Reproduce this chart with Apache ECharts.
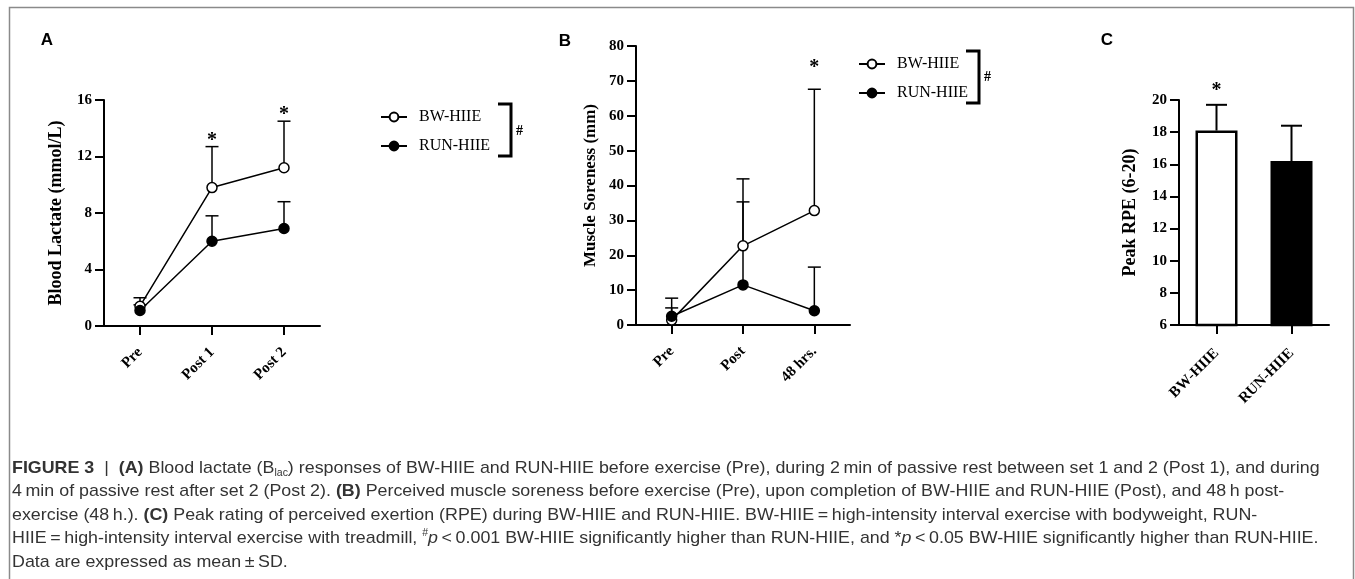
<!DOCTYPE html>
<html><head><meta charset="utf-8">
<script src="https://cdn.jsdelivr.net/npm/echarts@6/dist/echarts.min.js"></script>
<style>html,body{margin:0;padding:0;background:#fff}#c{width:1355px;height:579px}</style>
</head><body><div id="c"></div>
<script>
// ---------- DATA ----------
// Panel A: blood lactate (mmol/L)
const catsA = ['Pre', 'Post 1', 'Post 2'];
const bwA = [1.4, 9.8, 11.2];
const bwAsd = [0.6, 2.9, 3.3];
const runA = [1.1, 6.0, 6.9];
const runAsd = [0.4, 1.8, 1.9];
const starA = [null, 13.4, 15.2];
const yTicksA = [0, 4, 8, 12, 16];

// Panel B: muscle soreness (mm)
const catsB = ['Pre', 'Post', '48 hrs.'];
const bwB = [1.4, 22.7, 32.8];
const bwBsd = [3.5, 19.2, 34.8];
const runB = [2.5, 11.5, 4.1];
const runBsd = [5.2, 23.8, 12.5];
const starB = [null, null, 74.8];
const yTicksB = [0, 10, 20, 30, 40, 50, 60, 70, 80];

// Panel C: peak RPE (6-20)
const catsC = ['BW-HIIE', 'RUN-HIIE'];
const rpeC = [18.1, 16.2];
const rpeCsd = [1.6, 2.2];
const starC = [20.8, null];
const yTicksC = [6, 8, 10, 12, 14, 16, 18, 20];

const seriesNames = ['BW-HIIE', 'RUN-HIIE'];

const captionLines = [
  '{b|FIGURE 3}{n|  |  }{b|(A)}{n| Blood lactate (B}{sub|lac}{n|) responses of BW-HIIE and RUN-HIIE before exercise (Pre), during 2\u2009min of passive rest between set 1 and 2 (Post 1), and during}',
  '{n|4\u2009min of passive rest after set 2 (Post 2). }{b|(B)}{n| Perceived muscle soreness before exercise (Pre), upon completion of BW-HIIE and RUN-HIIE (Post), and 48\u2009h post-}',
  '{n|exercise (48\u2009h.). }{b|(C)}{n| Peak rating of perceived exertion (RPE) during BW-HIIE and RUN-HIIE. BW-HIIE\u2009=\u2009high-intensity interval exercise with bodyweight, RUN-}',
  '{n|HIIE\u2009=\u2009high-intensity interval exercise with treadmill, }{sup|#}{i|p}{n|\u2009<\u20090.001 BW-HIIE significantly higher than RUN-HIIE, and *}{i|p}{n|\u2009<\u20090.05 BW-HIIE significantly higher than RUN-HIIE.}',
  '{n|Data are expressed as mean\u2009\u00b1\u2009SD.}'
];

// ---------- STYLE HELPERS ----------
const SERIF = '"Liberation Serif", "Times New Roman", serif';
const SANS = '"Liberation Sans", Arial, sans-serif';

function errData(mean, sd) {
  return mean.map((m, i) => [i, m, +(m + sd[i]).toFixed(2)]);
}
function starData(arr) {
  const out = [];
  arr.forEach((v, i) => { if (v != null) out.push([i, v]); });
  return out;
}
function errRender(capW, lw) {
  return function (params, api) {
    const p0 = api.coord([api.value(0), api.value(1)]);
    const p1 = api.coord([api.value(0), api.value(2)]);
    return {
      type: 'group', children: [
        { type: 'line', shape: { x1: p0[0], y1: p0[1], x2: p1[0], y2: p1[1] }, style: { stroke: '#000', lineWidth: lw } },
        { type: 'line', shape: { x1: p1[0] - capW / 2, y1: p1[1], x2: p1[0] + capW / 2, y2: p1[1] }, style: { stroke: '#000', lineWidth: lw } }
      ]
    };
  };
}
function starRender(params, api) {
  const p = api.coord([api.value(0), api.value(1)]);
  return { type: 'text', x: p[0], y: p[1] + 4, style: { text: '*', font: 'bold 20px ' + SERIF, fill: '#000', align: 'center', verticalAlign: 'middle' } };
}

function xAxisCfg(idx, cats, margin) {
  return {
    type: 'category', gridIndex: idx, data: cats, boundaryGap: true,
    axisLine: { lineStyle: { color: '#000', width: 2 } },
    axisTick: { show: true, alignWithLabel: true, length: 9, lineStyle: { color: '#000', width: 2 } },
    axisLabel: { rotate: 45, margin: margin, color: '#000', fontFamily: SERIF, fontWeight: 'bold', fontSize: 15, interval: 0 },
    splitLine: { show: false }
  };
}
function yAxisCfg(idx, ticks, name, gap, nameSize) {
  return {
    type: 'value', gridIndex: idx, min: ticks[0], max: ticks[ticks.length - 1], interval: ticks[1] - ticks[0],
    name: name, nameLocation: 'middle', nameGap: gap, nameRotate: 90,
    nameTextStyle: { color: '#000', fontFamily: SERIF, fontWeight: 'bold', fontSize: nameSize },
    axisLine: { show: true, lineStyle: { color: '#000', width: 2 } },
    axisTick: { show: true, length: 9, lineStyle: { color: '#000', width: 2 } },
    axisLabel: { margin: 12, color: '#000', fontFamily: SERIF, fontWeight: 'bold', fontSize: 15 },
    splitLine: { show: false }
  };
}
function lineSeries(name, data, xi, filled) {
  return {
    type: 'line', name: name, xAxisIndex: xi, yAxisIndex: xi, data: data, z: 5,
    symbol: 'circle', symbolSize: 10,
    itemStyle: { color: filled ? '#000' : '#fff', borderColor: '#000', borderWidth: 1.5 },
    lineStyle: { color: '#000', width: 1.5 },
    emphasis: { disabled: true }
  };
}
function errSeries(data, xi, capW, lw) {
  return { type: 'custom', xAxisIndex: xi, yAxisIndex: xi, data: data, z: 3, renderItem: errRender(capW, lw), silent: true };
}
function starSeries(data, xi) {
  return { type: 'custom', xAxisIndex: xi, yAxisIndex: xi, data: data, z: 6, renderItem: starRender, silent: true };
}

// ---------- CAPTION ----------
const capFont = 17;
const mctx = document.createElement('canvas').getContext('2d');
mctx.font = capFont + 'px ' + SANS;
const plain1 = captionLines[0].replace(/\{[a-z]+\|([^}]*)\}/g, '$1');
const capScale = 1316 / mctx.measureText(plain1).width;
const capRich = {
  n: { fontFamily: SANS, fontSize: capFont, color: '#333' },
  b: { fontFamily: SANS, fontSize: capFont, fontWeight: 'bold', color: '#222' },
  i: { fontFamily: SANS, fontSize: capFont, fontStyle: 'italic', color: '#333' },
  sub: { fontFamily: SANS, fontSize: 10, color: '#333', verticalAlign: 'bottom', lineHeight: 20 },
  sup: { fontFamily: SANS, fontSize: 10, color: '#333', verticalAlign: 'top', lineHeight: 20 }
};
const captionGraphics = captionLines.map((t, k) => ({
  type: 'text', x: 12, y: 468 + k * 23.5, scaleX: capScale, silent: true,
  style: { text: t, rich: capRich, verticalAlign: 'middle', align: 'left', fill: '#333', font: capFont + 'px ' + SANS }
}));

// ---------- CHART ----------
const chart = echarts.init(document.getElementById('c'), null, { renderer: 'canvas' });
const option = {
  backgroundColor: '#fff',
  animation: false,
  grid: [
    { left: 104, top: 100, width: 216, height: 226, containLabel: false, outerBoundsMode: 'none' },
    { left: 636, top: 46, width: 214, height: 279, containLabel: false, outerBoundsMode: 'none' },
    { left: 1179, top: 100, width: 150, height: 225, containLabel: false, outerBoundsMode: 'none' }
  ],
  xAxis: [xAxisCfg(0, catsA, 24), xAxisCfg(1, catsB, 24), xAxisCfg(2, catsC, 26)],
  yAxis: [
    yAxisCfg(0, yTicksA, 'Blood Lactate (mmol/L)', 39, 18),
    yAxisCfg(1, yTicksB, 'Muscle Soreness (mm)', 37, 17),
    yAxisCfg(2, yTicksC, 'Peak RPE (6-20)', 40, 18)
  ],
  legend: [
    { data: seriesNames, orient: 'vertical', left: 375, top: 104, itemWidth: 26, itemHeight: 11, itemGap: 13,
      textStyle: { fontFamily: SERIF, fontSize: 16, color: '#000', padding: [0, 0, 0, 7] }, selectedMode: false },
    { data: seriesNames, orient: 'vertical', left: 853, top: 51, itemWidth: 26, itemHeight: 11, itemGap: 13,
      textStyle: { fontFamily: SERIF, fontSize: 16, color: '#000', padding: [0, 0, 0, 7] }, selectedMode: false }
  ],
  series: [
    errSeries(errData(bwA, bwAsd), 0, 13, 1.5),
    errSeries(errData(runA, runAsd), 0, 13, 1.5),
    lineSeries(seriesNames[0], bwA, 0, false),
    lineSeries(seriesNames[1], runA, 0, true),
    starSeries(starData(starA), 0),

    errSeries(errData(bwB, bwBsd), 1, 13, 1.5),
    errSeries(errData(runB, runBsd), 1, 13, 1.5),
    lineSeries(seriesNames[0], bwB, 1, false),
    lineSeries(seriesNames[1], runB, 1, true),
    starSeries(starData(starB), 1),

    {
      type: 'bar', xAxisIndex: 2, yAxisIndex: 2, barWidth: 42, z: 4,
      data: rpeC.map((v, i) => ({ value: v, itemStyle: { color: i === 0 ? '#fff' : '#000', borderColor: '#000', borderWidth: 2.5 } })),
      emphasis: { disabled: true }
    },
    errSeries(errData(rpeC, rpeCsd), 2, 21, 2),
    starSeries(starData(starC), 2)
  ],
  graphic: [
    { type: 'rect', silent: true, shape: { x: 9.5, y: 7.5, width: 1344, height: 620 }, style: { fill: 'none', stroke: '#8a8a8a', lineWidth: 1.5 } },
    { type: 'text', x: 47, y: 40, silent: true, style: { text: 'A', font: 'bold 17px ' + SANS, fill: '#000', align: 'center', verticalAlign: 'middle' } },
    { type: 'text', x: 565, y: 41, silent: true, style: { text: 'B', font: 'bold 17px ' + SANS, fill: '#000', align: 'center', verticalAlign: 'middle' } },
    { type: 'text', x: 1107, y: 40, silent: true, style: { text: 'C', font: 'bold 17px ' + SANS, fill: '#000', align: 'center', verticalAlign: 'middle' } },
    { type: 'polyline', silent: true, shape: { points: [[498, 104], [511, 104], [511, 156], [498, 156]] }, style: { stroke: '#000', lineWidth: 3, fill: 'none' } },
    { type: 'text', x: 516, y: 131, silent: true, style: { text: '#', font: 'bold 14px ' + SERIF, fill: '#000', align: 'left', verticalAlign: 'middle' } },
    { type: 'polyline', silent: true, shape: { points: [[966, 51], [979, 51], [979, 103], [966, 103]] }, style: { stroke: '#000', lineWidth: 3, fill: 'none' } },
    { type: 'text', x: 984, y: 77, silent: true, style: { text: '#', font: 'bold 14px ' + SERIF, fill: '#000', align: 'left', verticalAlign: 'middle' } }
  ].concat(captionGraphics)
};
chart.setOption(option);
</script>
</body></html>
